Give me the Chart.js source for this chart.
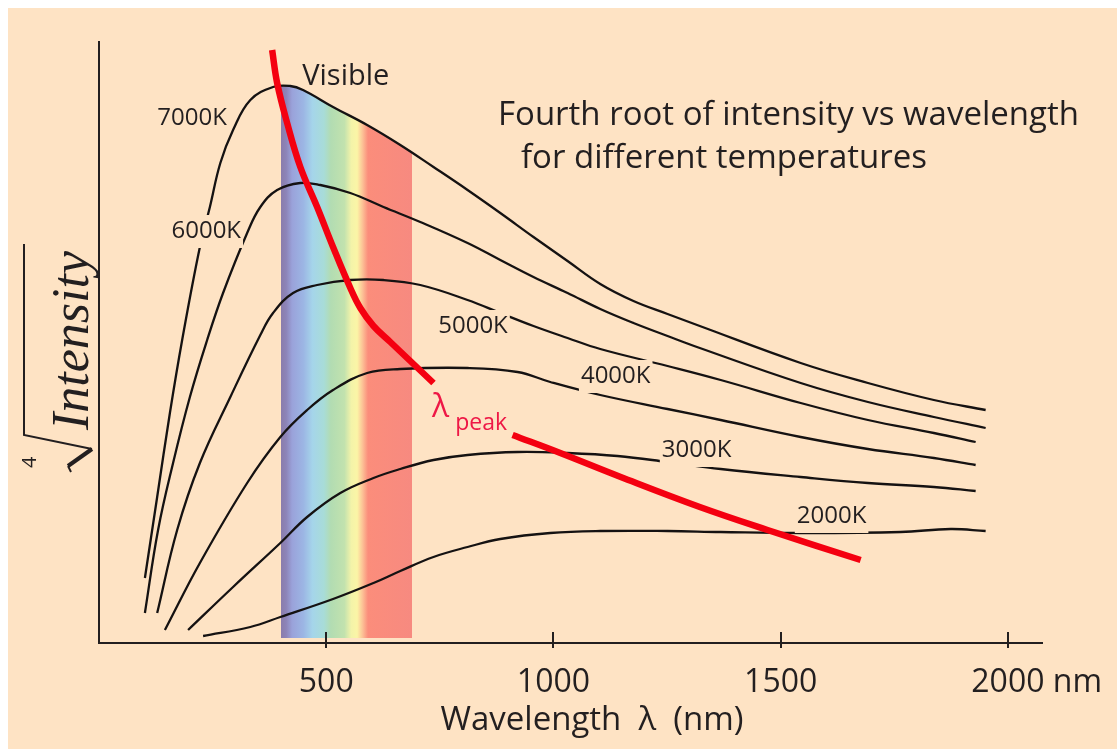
<!DOCTYPE html>
<html>
<head>
<meta charset="utf-8">
<title>Fourth root of intensity vs wavelength</title>
<script src="https://cdn.jsdelivr.net/npm/chart.js@4.4.1/dist/chart.umd.min.js"></script>
<style>
  html, body { margin: 0; padding: 0; background: #fff; }
  canvas { display: block; }
</style>
</head>
<body>
<canvas id="blackbody" width="1117" height="749"></canvas>
<script>
// Wavelength (nm) and fourth root of intensity (arbitrary units)
const wl7000 = [101, 128, 156, 183, 222, 244, 267, 295, 333, 383, 421, 449, 515, 590, 663, 736, 811, 883, 956, 1031, 1103, 1176, 1251, 1322, 1544, 1692, 1837, 1951];
const int7000 = [65, 146, 230, 303, 396, 436, 480, 513, 543, 556, 557, 553, 536, 518, 498, 476, 453, 430, 406, 382, 359, 342, 329, 317, 280, 260, 243, 233];

const wl6000 = [101, 130, 163, 200, 238, 273, 326, 355, 392, 443, 487, 553, 626, 707, 811, 883, 956, 1031, 1103, 1176, 1251, 1322, 1544, 1692, 1837, 1951];
const int6000 = [30, 113, 180, 246, 303, 350, 410, 436, 453, 460, 458, 450, 436, 421, 400, 383, 366, 350, 334, 320, 307, 295, 260, 241, 226, 215];

const wl5000 = [128, 172, 222, 289, 355, 383, 427, 480, 553, 626, 707, 811, 883, 956, 1031, 1103, 1251, 1368, 1544, 1692, 1837, 1929];
const int5000 = [30, 113, 180, 246, 308, 330, 350, 358, 363, 363, 358, 343, 330, 317, 305, 294, 277, 263, 240, 223, 210, 201];

const wl4000 = [145, 222, 326, 399, 458, 515, 590, 663, 811, 921, 993, 1103, 1251, 1368, 1544, 1692, 1837, 1929];
const int4000 = [13, 80, 160, 206, 233, 253, 270, 274, 275, 271, 261, 248, 234, 223, 206, 194, 185, 178];

const wl3000 = [196, 295, 399, 458, 531, 604, 663, 736, 811, 921, 1031, 1141, 1251, 1368, 1544, 1692, 1837, 1929];
const int3000 = [13, 56, 100, 126, 150, 165, 174, 183, 188, 191, 190, 187, 181, 174, 166, 160, 156, 152];

const wl2000 = [229, 333, 399, 515, 604, 663, 736, 811, 883, 993, 1103, 1251, 1368, 1544, 1764, 1874, 1951];
const int2000 = [7, 16, 26, 44, 60, 72, 86, 96, 104, 110, 112, 112, 111, 110, 111, 114, 112];

// Wien peak line; the null is the break where the lambda-peak label sits
const wlPeak = [381, 392, 414, 443, 480, 515, 553, 575, 604, 641, 685, 736, 826, 910, 1015, 1148, 1322, 1471, 1676];
const intPeak = [593, 560, 520, 476, 436, 396, 355, 335, 317, 301, 282, 260, null, 208, 190, 166, 136, 113, 83];

// visible band, nm
const bandStops = [400, 412, 425, 450, 470, 495, 510, 540, 555, 568, 580, 592, 688];
const bandColors = ['#8a7cab', '#8d84b8', '#9aa2da', '#9cb6e4', '#a5d5ea', '#a8dcd8', '#b2dcb2', '#c2e2ae', '#f3f3a9', '#fbf5a6', '#fcc196', '#fb8d7b', '#f78a80'];

const xTickValues = [500, 1000, 1500, 2000];

const PEACH = '#fee3c4';
const INK = '#231f20';
const RED = '#f40010';

const curveLabels = [
  { text: '7000K', x: 205, y: 518 },
  { text: '6000K', x: 236, y: 405 },
  { text: '5000K', x: 823, y: 310 },
  { text: '4000K', x: 1137, y: 260 },
  { text: '3000K', x: 1315, y: 186 },
  { text: '2000K', x: 1612, y: 120 },
];

function toPoints(xs, ys) {
  return xs.map((x, i) => ({ x: x, y: ys[i] }));
}

function bandGradient(context) {
  const chart = context.chart;
  const area = chart.chartArea;
  if (!area) return 'transparent';
  const xScale = chart.scales.x;
  const none = 'rgba(0,0,0,0)';
  const g = chart.ctx.createLinearGradient(area.left, 0, area.right, 0);
  const off = (nm) => Math.min(1, Math.max(0, (xScale.getPixelForValue(nm) - area.left) / (area.right - area.left)));
  g.addColorStop(0, none);
  g.addColorStop(off(bandStops[0]), none);
  bandStops.forEach((nm, i) => g.addColorStop(off(nm), bandColors[i]));
  g.addColorStop(off(bandStops[bandStops.length - 1]), none);
  g.addColorStop(1, none);
  return g;
}

function blackCurve(xs, ys) {
  return {
    data: toPoints(xs, ys),
    borderColor: '#151212',
    borderWidth: 2.3,
    pointRadius: 0,
    tension: 0.4,
    fill: false,
    order: 1,
  };
}

const backdrop = {
  id: 'backdrop',
  beforeDraw(chart) {
    const c = chart.ctx;
    c.save();
    c.fillStyle = '#ffffff';
    c.fillRect(0, 0, chart.width, chart.height);
    c.fillStyle = PEACH;
    c.fillRect(8, 8, chart.width - 8, chart.height - 8);
    c.restore();
  },
};

const annotations = {
  id: 'annotations',
  afterDraw(chart) {
    const c = chart.ctx;
    const xs = chart.scales.x;
    const ys = chart.scales.y;
    c.save();
    c.fillStyle = INK;
    c.strokeStyle = INK;

    // tick marks crossing the axis
    c.lineWidth = 2;
    xTickValues.forEach((v) => {
      const px = Math.round(xs.getPixelForValue(v));
      c.beginPath();
      c.moveTo(px, xs.top - 11);
      c.lineTo(px, xs.top + 5);
      c.stroke();
    });

    // unit after the last tick label
    c.font = '32px "Open Sans"';
    c.textAlign = 'left';
    c.textBaseline = 'middle';
    const last = xTickValues[xTickValues.length - 1];
    c.fillText(' nm', xs.getPixelForValue(last) + c.measureText(String(last)).width / 2, xs.top + 24 + 16);

    c.textBaseline = 'alphabetic';

    // x axis title
    c.font = '33px "Open Sans"';
    c.textAlign = 'center';
    c.fillText('Wavelength  \u03bb  (nm)', 592, 730);

    // title
    c.textAlign = 'left';
    c.fillText('Fourth root of intensity vs wavelength', 498, 125);
    c.fillText('for different temperatures', 521, 168);

    // curve labels, each on a small patch of background
    c.font = '24px "Open Sans"';
    c.textAlign = 'center';
    curveLabels.forEach((l) => {
      const px = xs.getPixelForValue(l.x);
      const py = ys.getPixelForValue(l.y);
      const w = c.measureText(l.text).width;
      c.fillStyle = PEACH;
      c.fillRect(px - w / 2 - 2, py - 23, w + 4, 33);
      c.fillStyle = INK;
      c.fillText(l.text, px, py);
    });

    c.font = '29px "Open Sans"';
    c.fillText('Visible', xs.getPixelForValue(543), ys.getPixelForValue(558));

    // lambda peak label
    c.fillStyle = '#ee1846';
    c.textAlign = 'left';
    c.font = '32px "Open Sans"';
    c.fillText('\u03bb', xs.getPixelForValue(733), ys.getPixelForValue(226));
    c.font = '23px "Open Sans"';
    c.fillText('peak', xs.getPixelForValue(784), ys.getPixelForValue(213));

    // y axis title: fourth root of Intensity, turned on its side
    c.fillStyle = INK;
    c.save();
    c.translate(88, 430);
    c.rotate(-Math.PI / 2);
    c.font = 'italic 52px "Liberation Serif"';
    c.fillText('Intensity', 0, 0);
    c.restore();

    c.save();
    c.translate(36, 468);
    c.rotate(-Math.PI / 2);
    c.font = '20px "Open Sans"';
    c.fillText('4', 0, 0);
    c.restore();

    // radical sign
    c.lineWidth = 2;
    c.beginPath();
    c.moveTo(24, 244);
    c.lineTo(24, 435);
    c.lineTo(92, 449);
    c.stroke();
    c.lineWidth = 4;
    c.beginPath();
    c.moveTo(92, 449);
    c.lineTo(68, 466);
    c.stroke();
    c.lineWidth = 2;
    c.beginPath();
    c.moveTo(68, 466);
    c.lineTo(71, 472);
    c.stroke();

    c.restore();
  },
};

const datasets = [
  {
    data: toPoints(wlPeak, intPeak),
    borderColor: RED,
    borderWidth: 6.5,
    pointRadius: 0,
    tension: 0.4,
    spanGaps: false,
    fill: false,
    order: 0,
  },
  blackCurve(wl2000, int2000),
  blackCurve(wl3000, int3000),
  blackCurve(wl4000, int4000),
  blackCurve(wl5000, int5000),
  blackCurve(wl6000, int6000),
  Object.assign(blackCurve(wl7000, int7000), {
    fill: { value: 5 },
    backgroundColor: bandGradient,
  }),
];

const axisLine = { display: true, color: INK, width: 2 };

new Chart(document.getElementById('blackbody').getContext('2d'), {
  type: 'line',
  data: { datasets: datasets },
  options: {
    responsive: false,
    animation: false,
    layout: { padding: { top: 42, right: 75, bottom: 0, left: 0 } },
    plugins: {
      legend: { display: false },
      tooltip: { enabled: false },
      filler: { drawTime: 'beforeDatasetsDraw' },
    },
    scales: {
      x: {
        type: 'linear',
        min: 0,
        max: 2075,
        afterBuildTicks: (scale) => {
          scale.ticks = xTickValues.map((v) => ({ value: v }));
        },
        afterFit: (scale) => {
          scale.height = 106;
          scale.paddingLeft = 0;
          scale.paddingRight = 0;
        },
        grid: { display: false, drawTicks: false },
        border: axisLine,
        ticks: {
          color: INK,
          font: { family: '"Open Sans"', size: 32, lineHeight: 1 },
          padding: 24,
          maxRotation: 0,
          autoSkip: false,
          callback: (v) => String(v),
        },
      },
      y: {
        type: 'linear',
        min: 0,
        max: 601,
        afterFit: (scale) => {
          scale.width = 99;
          scale.paddingTop = 0;
          scale.paddingBottom = 0;
        },
        grid: { display: false, drawTicks: false },
        border: axisLine,
        ticks: { display: false },
      },
    },
  },
  plugins: [backdrop, annotations],
});
</script>
</body>
</html>
